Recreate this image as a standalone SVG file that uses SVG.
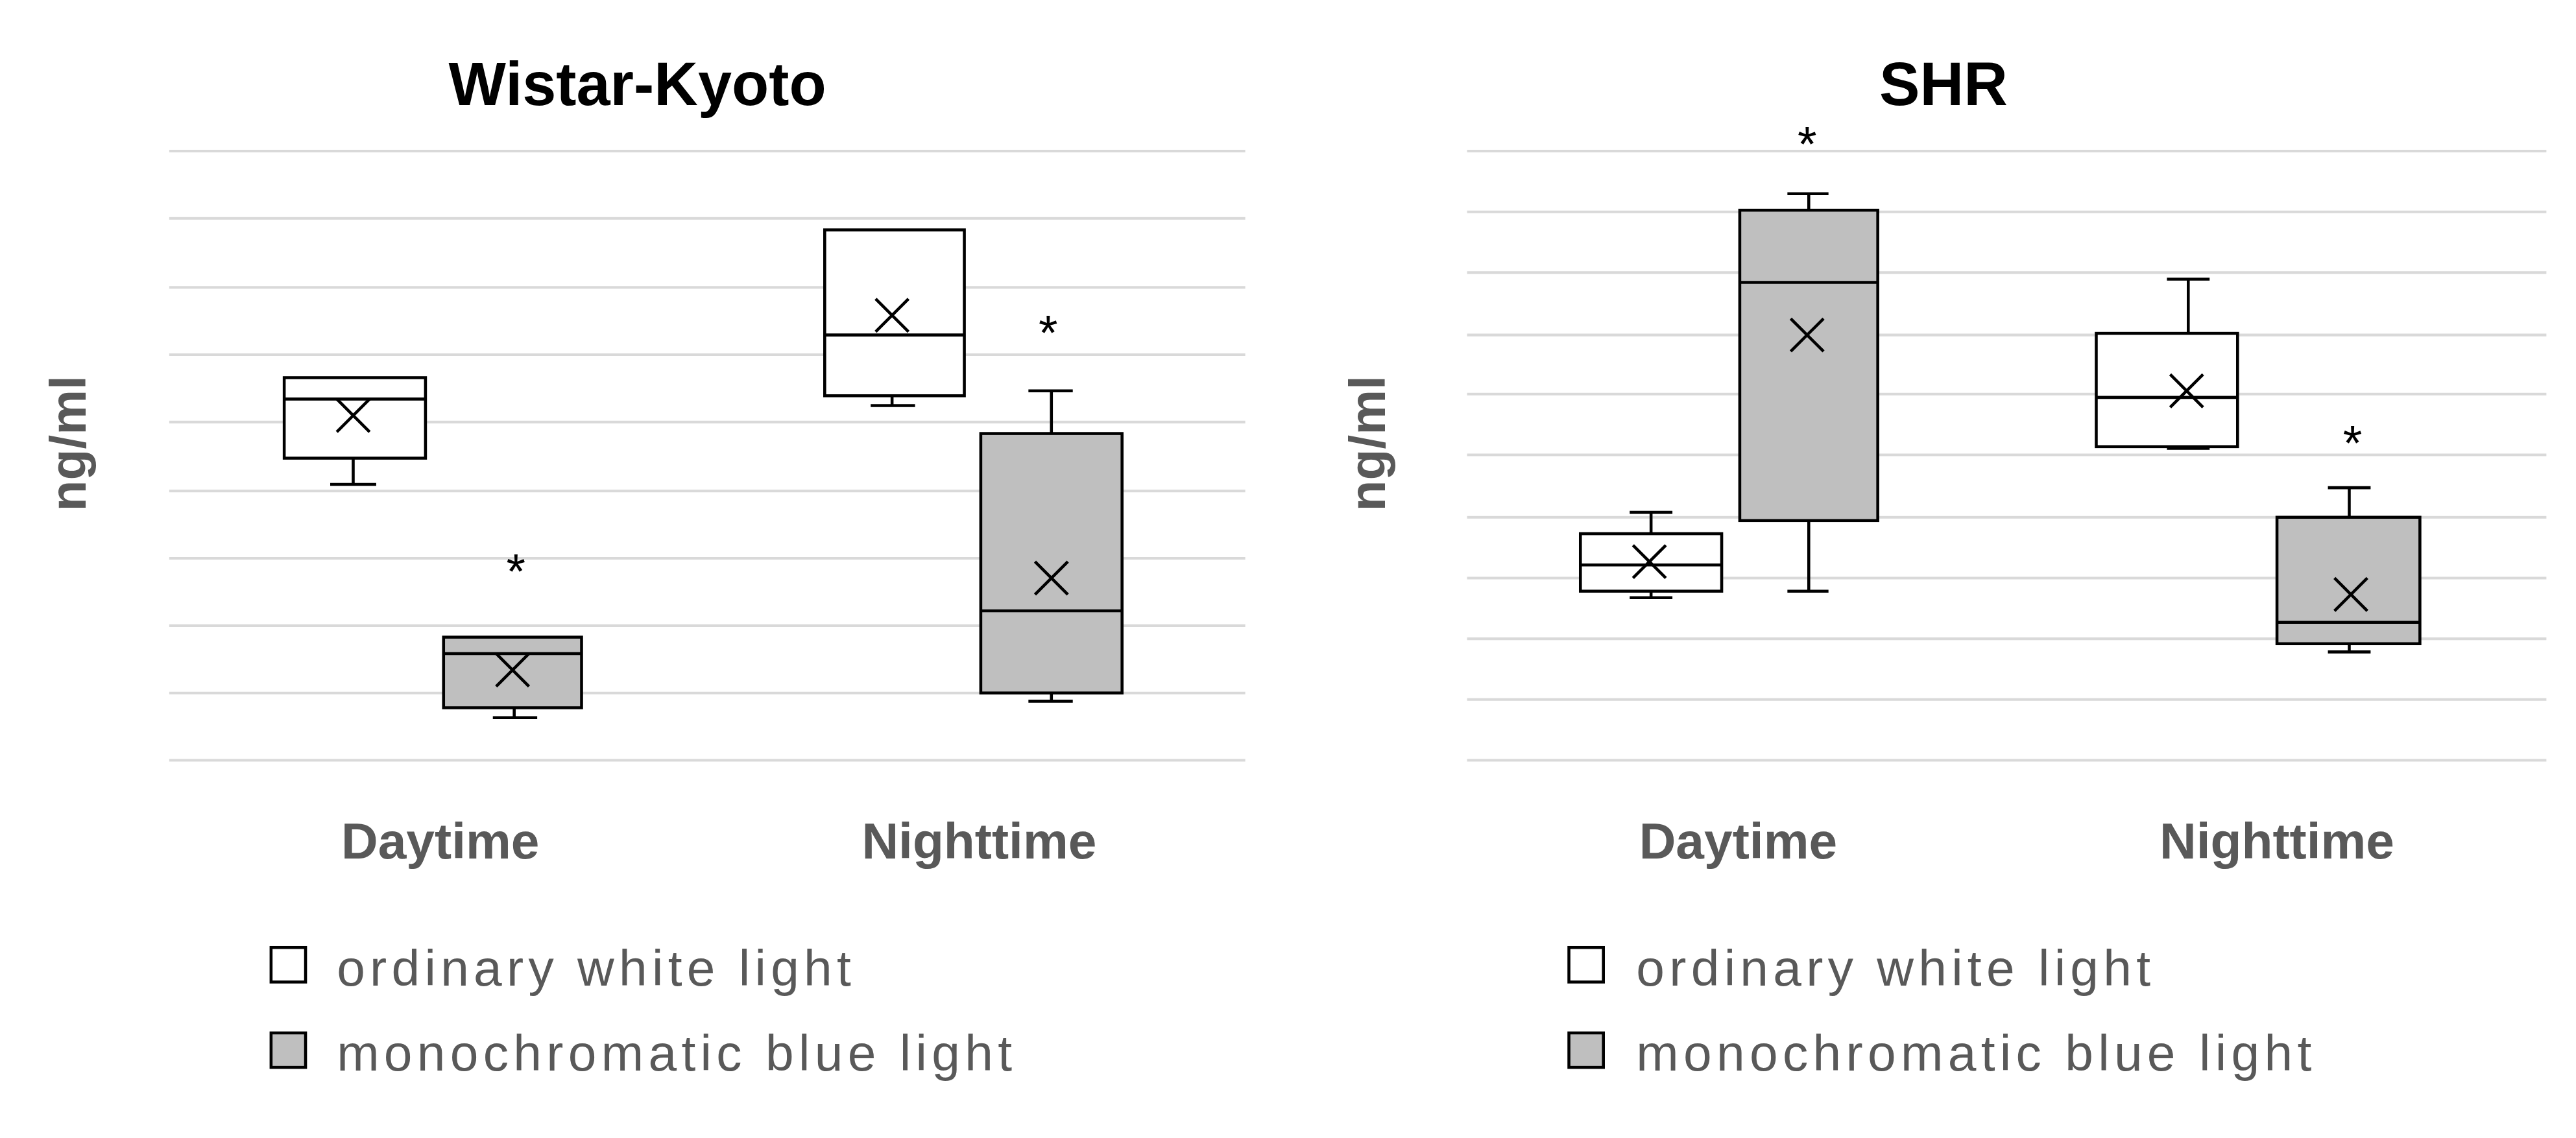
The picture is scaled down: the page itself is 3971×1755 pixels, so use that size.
<svg xmlns="http://www.w3.org/2000/svg" width="3971" height="1755" viewBox="0 0 3971 1755">
<defs>
<style>
.grid{stroke:#d9d9d9;stroke-width:1.6;fill:none}
.box{stroke:#000;stroke-width:1.8}
.w{fill:#fff}.g{fill:#bfbfbf}
.ln{stroke:#000;stroke-width:1.8;fill:none}
.title{font-family:"Liberation Sans",Arial,sans-serif;font-weight:bold;font-size:37px;fill:#000;text-anchor:middle}
.ax{font-family:"Liberation Sans",Arial,sans-serif;font-weight:bold;font-size:31px;fill:#595959;text-anchor:middle}
.leg{font-family:"Liberation Sans",Arial,sans-serif;font-size:31px;fill:#595959}
.star{font-family:"Liberation Sans",Arial,sans-serif;font-size:30px;fill:#000;text-anchor:middle}
</style>
<path id="xm" d="M-10,-10L10,10M-10,10L10,-10" class="ln"/>
</defs>
<rect width="3971" height="1755" fill="#fff"/>
<g transform="scale(2.5325)">
<g id="left-grid">
<path class="grid" d="M103,92H758M103,133H758M103,175H758M103,216H758M103,257H758M103,299H758M103,340H758M103,381H758M103,422H758M103,463H758"/>
</g>
<g id="right-grid">
<path class="grid" d="M893,92H1550M893,129H1550M893,166H1550M893,204H1550M893,240H1550M893,277H1550M893,315H1550M893,352H1550M893,389H1550M893,426H1550M893,463H1550"/>
</g>
<text class="title" x="388" y="64">Wistar-Kyoto</text>
<text class="title" x="1183" y="64">SHR</text>
<text class="ax" transform="translate(52,270) rotate(-90)">ng/ml</text>
<text class="ax" transform="translate(843,270) rotate(-90)">ng/ml</text>
<text class="ax" x="268" y="523">Daytime</text>
<text class="ax" x="596" y="523">Nighttime</text>
<text class="ax" x="1058" y="523">Daytime</text>
<text class="ax" x="1386" y="523">Nighttime</text>

<g id="wky-day-white">
<path class="ln" d="M215,279V295M201,295H229"/>
<rect class="box w" x="173" y="230" width="86" height="49"/>
<path class="ln" d="M173,243H259"/>
<use href="#xm" x="215" y="253"/>
</g>
<g id="wky-day-blue">
<path class="ln" d="M313,431V437M300,437H327"/>
<rect class="box g" x="270" y="388" width="84" height="43"/>
<path class="ln" d="M270,398H354"/>
<use href="#xm" x="312" y="408"/>
<text class="star" x="314" y="358">*</text>
</g>
<g id="wky-night-white">
<path class="ln" d="M543,241V247M530,247H557"/>
<rect class="box w" x="502" y="140" width="85" height="101"/>
<path class="ln" d="M502,204H587"/>
<use href="#xm" x="543" y="192"/>
</g>
<g id="wky-night-blue">
<path class="ln" d="M640,264V238M626,238H653M640,422V427M626,427H653"/>
<rect class="box g" x="597" y="264" width="86" height="158"/>
<path class="ln" d="M597,372H683"/>
<use href="#xm" x="640" y="352"/>
<text class="star" x="638" y="213">*</text>
</g>

<g id="shr-day-white">
<path class="ln" d="M1005,325V312M992,312H1018M1005,360V364M992,364H1018"/>
<rect class="box w" x="962" y="325" width="86" height="35"/>
<path class="ln" d="M962,344H1048"/>
<use href="#xm" x="1004" y="342"/>
</g>
<g id="shr-day-blue">
<path class="ln" d="M1101,128V118M1088,118H1113M1101,317V360M1088,360H1113"/>
<rect class="box g" x="1059" y="128" width="84" height="189"/>
<path class="ln" d="M1059,172H1143"/>
<use href="#xm" x="1100" y="204"/>
<text class="star" x="1100" y="98">*</text>
</g>
<g id="shr-night-white">
<path class="ln" d="M1332,203V170M1319,170H1345M1319,273H1345"/>
<rect class="box w" x="1276" y="203" width="86" height="69"/>
<path class="ln" d="M1276,242H1362"/>
<use href="#xm" x="1331" y="238"/>
</g>
<g id="shr-night-blue">
<path class="ln" d="M1430,315V297M1417,297H1443M1430,392V397M1417,397H1443"/>
<rect class="box g" x="1386" y="315" width="87" height="77"/>
<path class="ln" d="M1386,379H1473"/>
<use href="#xm" x="1431" y="362"/>
<text class="star" x="1432" y="280">*</text>
</g>

<g id="legend-left">
<rect class="box w" x="165" y="577" width="21" height="21"/>
<text class="leg" x="205" y="600" textLength="313">ordinary white light</text>
<rect class="box g" x="165" y="629" width="21" height="21"/>
<text class="leg" x="205" y="652" textLength="411">monochromatic blue light</text>
</g>
<g id="legend-right">
<rect class="box w" x="955" y="577" width="21" height="21"/>
<text class="leg" x="996" y="600" textLength="313">ordinary white light</text>
<rect class="box g" x="955" y="629" width="21" height="21"/>
<text class="leg" x="996" y="652" textLength="411">monochromatic blue light</text>
</g>
</g>
</svg>
